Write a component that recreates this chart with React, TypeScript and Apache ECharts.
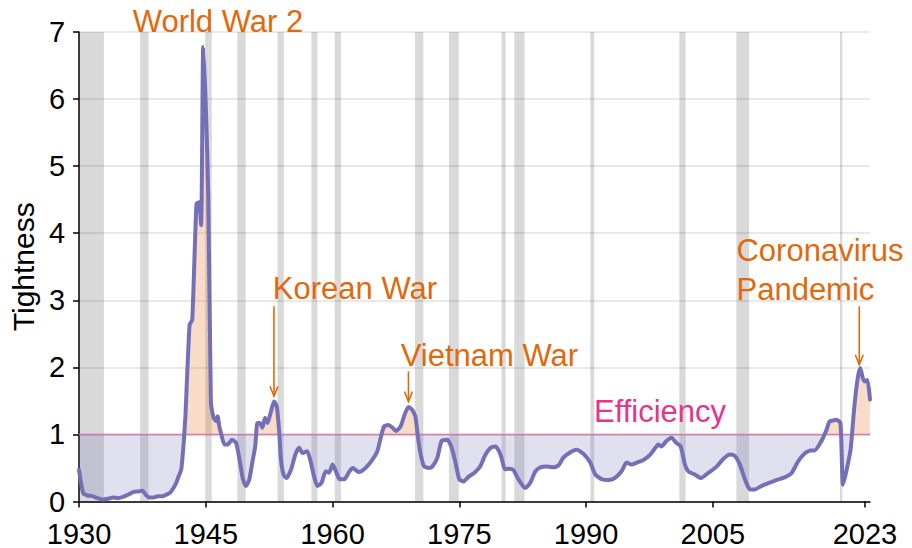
import React, { useEffect, useRef } from "react";
import * as echarts from "echarts";

// ---- data ----
const years: number[] = [
  1930.0, 1930.5, 1931.0, 1931.6, 1932.2, 1932.8, 1933.4, 1934.0, 1934.6, 1935.2,
  1935.8, 1936.4, 1937.0, 1937.5, 1937.9, 1938.3, 1938.8, 1939.3, 1939.9, 1940.5,
  1940.9, 1941.4, 1941.8, 1942.1, 1942.4, 1942.6, 1942.8, 1943.0, 1943.1, 1943.4,
  1943.9, 1944.2, 1944.45, 1944.7, 1945.0, 1945.3, 1945.6, 1945.9, 1946.2, 1946.4,
  1946.6, 1946.8, 1947.2, 1947.6, 1948.1, 1948.6, 1949.05, 1949.4, 1949.75, 1950.15,
  1950.5, 1950.85, 1951.1, 1951.4, 1951.7, 1952.0, 1952.3, 1952.6, 1953.1, 1953.4,
  1953.7, 1953.9, 1954.2, 1954.55, 1955.1, 1955.6, 1956.05, 1956.45, 1957.0, 1957.4,
  1957.8, 1958.2, 1958.7, 1959.2, 1959.6, 1960.0, 1960.4, 1960.85, 1961.4, 1962.0,
  1962.4, 1963.1, 1963.9, 1964.7, 1965.3, 1965.7, 1966.1, 1966.6, 1967.1, 1967.5,
  1968.05, 1968.6, 1969.0, 1969.4, 1969.8, 1970.1, 1970.4, 1970.8, 1971.4, 1971.8,
  1972.4, 1972.9, 1973.6, 1974.1, 1974.55, 1975.0, 1975.5, 1976.1, 1976.8, 1977.5,
  1978.1, 1978.7, 1979.3, 1979.7, 1980.0, 1980.4, 1980.9, 1981.4, 1982.0, 1982.8,
  1983.4, 1984.0, 1984.6, 1985.4, 1986.2, 1986.75, 1987.3, 1988.1, 1988.9, 1989.7,
  1990.5, 1991.1, 1991.9, 1992.65, 1993.4, 1994.2, 1994.8, 1995.4, 1996.0, 1996.8,
  1997.6, 1998.2, 1998.55, 1998.9, 1999.5, 2000.1, 2000.7, 2001.2, 2001.7, 2002.1,
  2002.9, 2003.6, 2004.5, 2005.45, 2006.2, 2007.0, 2007.6, 2008.2, 2008.8, 2009.4,
  2009.95, 2010.75, 2011.5, 2012.5, 2013.5, 2014.3, 2015.1, 2015.9, 2016.6, 2017.05,
  2017.85, 2018.4, 2018.8, 2019.3, 2019.6, 2020.1, 2020.4, 2020.8, 2021.3, 2021.75,
  2022.15, 2022.45, 2022.75, 2023.0, 2023.3, 2023.6,
];
const tightness: number[] = [
  0.47, 0.12, 0.09, 0.08, 0.05, 0.03, 0.04, 0.06, 0.05, 0.07,
  0.10, 0.14, 0.15, 0.16, 0.10, 0.06, 0.06, 0.08, 0.08, 0.11,
  0.15, 0.25, 0.38, 0.48, 0.90, 1.30, 1.90, 2.45, 2.64, 2.71,
  4.44, 4.46, 4.12, 6.78, 5.90, 4.54, 1.50, 1.26, 1.20, 1.27,
  1.12, 1.02, 0.85, 0.85, 0.92, 0.87, 0.58, 0.33, 0.23, 0.33,
  0.58, 0.82, 1.17, 1.17, 1.10, 1.25, 1.17, 1.29, 1.49, 1.42,
  1.02, 0.62, 0.40, 0.35, 0.48, 0.70, 0.80, 0.72, 0.75, 0.60,
  0.38, 0.23, 0.28, 0.45, 0.43, 0.55, 0.45, 0.33, 0.33, 0.45,
  0.50, 0.44, 0.50, 0.62, 0.75, 0.95, 1.12, 1.14, 1.10, 1.05,
  1.12, 1.32, 1.41, 1.37, 1.27, 0.97, 0.72, 0.53, 0.50, 0.52,
  0.65, 0.90, 0.92, 0.80, 0.58, 0.33, 0.30, 0.37, 0.43, 0.53,
  0.70, 0.80, 0.82, 0.75, 0.65, 0.48, 0.49, 0.47, 0.33, 0.20,
  0.28, 0.45, 0.51, 0.52, 0.51, 0.54, 0.65, 0.73, 0.77, 0.71,
  0.58, 0.40, 0.33, 0.32, 0.35, 0.45, 0.58, 0.55, 0.58, 0.62,
  0.70, 0.80, 0.85, 0.82, 0.90, 0.95, 0.87, 0.82, 0.55, 0.45,
  0.40, 0.35, 0.43, 0.52, 0.63, 0.70, 0.68, 0.55, 0.33, 0.18,
  0.18, 0.23, 0.27, 0.32, 0.36, 0.42, 0.60, 0.72, 0.76, 0.76,
  0.90, 1.05, 1.19, 1.21, 1.22, 1.17, 0.25, 0.45, 0.77, 1.42,
  1.84, 1.99, 1.84, 1.79, 1.81, 1.52,
];
const recessionStarts: number[] = [
  1930.0, 1937.23, 1944.93, 1948.74, 1953.49, 1957.5, 1960.26, 1969.76, 1973.77,
  1980.0, 1981.51, 1990.5, 2001.04, 2007.79, 2020.05,
];
const recessionEnds: number[] = [
  1932.95, 1938.22, 1945.71, 1949.72, 1954.24, 1958.2, 1961.0, 1970.75, 1974.94,
  1980.48, 1982.72, 1990.97, 2001.78, 2009.29, 2020.32,
];
const xTickYears: number[] = [1930, 1945, 1960, 1975, 1990, 2005, 2023];
const xMin = 1930;
const xMax = 2023.6;
const yMin = 0;
const yMax = 7;
const efficiencyLevel = 1;

// annotation labels (anchor in data units)
const noteTexts: string[] = ["World War 2", "Korean War", "Vietnam War", "Coronavirus", "Pandemic"];
const noteX: number[] = [1946.44, 1962.65, 1978.56, 2007.8, 2007.8];
const noteY: number[] = [7.16, 3.17, 2.17, 3.74, 3.16];
const noteAlign: string[] = ["center", "center", "center", "left", "left"];
// arrows: x, from y, to y
const arrowX: number[] = [1953.07, 1968.98, 2022.33];
const arrowFrom: number[] = [2.91, 1.94, 2.91];
const arrowTo: number[] = [1.57, 1.49, 2.04];
const efficiencyLabel = "Efficiency";
const efficiencyLabelX = 1998.75;
const efficiencyLabelY = 1.34;

const FONT = "'Liberation Sans', Arial, Helvetica, sans-serif";
const ORANGE = "#e2680c";
const PINK_TEXT = "#e6338c";
const PINK_LINE = "#e27ab2";
const PURPLE = "#7470b8";

export default function App() {
  const ref = useRef<HTMLDivElement>(null);

  useEffect(() => {
    if (!ref.current) return;
    const chart = echarts.init(ref.current, null, { renderer: "svg" });
    const lineData = years.map((y, i) => [y, tightness[i]]);

    const option: any = {
      animation: false,
      backgroundColor: "#ffffff",
      textStyle: { fontFamily: FONT },
      grid: { left: 76, right: 42, top: 32, bottom: 46, containLabel: false },
      xAxis: {
        type: "value",
        min: xMin,
        max: xMax,
        axisLine: { show: true, onZero: false, lineStyle: { color: "#000", width: 1.5 } },
        axisTick: {
          show: true,
          customValues: xTickYears,
          length: 6,
          lineStyle: { color: "#000", width: 1.5 },
        },
        axisLabel: {
          customValues: xTickYears,
          color: "#000",
          fontSize: 29,
          lineHeight: 22,
          fontFamily: FONT,
          margin: 21,
          formatter: (v: number) => String(Math.round(v)),
        },
        splitLine: { show: false },
      },
      yAxis: {
        type: "value",
        min: yMin,
        max: yMax,
        interval: 1,
        name: "Tightness",
        nameLocation: "middle",
        nameGap: 40,
        nameTextStyle: { color: "#000", fontSize: 30, fontFamily: FONT },
        axisLine: { show: true, lineStyle: { color: "#000", width: 1.5 } },
        axisTick: { show: true, length: 6, lineStyle: { color: "#000", width: 1.5 } },
        axisLabel: { color: "#000", fontSize: 29, lineHeight: 22, fontFamily: FONT, margin: 14 },
        splitLine: { show: true, lineStyle: { color: "#e2e2e2", width: 1.5 } },
      },
      visualMap: {
        show: false,
        type: "piecewise",
        seriesIndex: 1,
        dimension: 1,
        pieces: [
          { gte: yMin - 1, lt: efficiencyLevel, color: "rgba(117,113,183,0.22)" },
          { gte: efficiencyLevel, lte: yMax + 1, color: "rgba(230,130,60,0.28)" },
        ],
      },
      series: [
        {
          name: "efficiency",
          type: "line",
          z: 1,
          silent: true,
          showSymbol: false,
          data: [
            [xMin, efficiencyLevel],
            [xMax, efficiencyLevel],
          ],
          lineStyle: { color: PINK_LINE, width: 1.6 },
          markArea: {
            silent: true,
            itemStyle: { color: "rgba(0,0,0,0.15)" },
            data: recessionStarts.map((s, i) => [
              { xAxis: s, yAxis: yMin },
              { xAxis: recessionEnds[i], yAxis: yMax },
            ]),
          },
        },
        {
          name: "fill",
          type: "line",
          z: 2,
          silent: true,
          showSymbol: false,
          smooth: 0.2,
          data: lineData,
          lineStyle: { width: 0, opacity: 0 },
          areaStyle: { origin: efficiencyLevel, opacity: 1 },
        },
        {
          name: "Tightness",
          type: "line",
          z: 3,
          silent: true,
          showSymbol: false,
          smooth: 0.2,
          data: lineData,
          lineStyle: { color: PURPLE, width: 4, cap: "round", join: "round" },
          itemStyle: { color: PURPLE },
        },
      ],
    };
    chart.setOption(option);

    const px = (x: number, y: number) =>
      chart.convertToPixel({ gridIndex: 0 }, [x, y]) as number[];

    const graphics: any[] = [];
    noteTexts.forEach((t, i) => {
      const p = px(noteX[i], noteY[i]);
      graphics.push({
        type: "text",
        x: p[0],
        y: p[1],
        z: 10,
        style: {
          text: t,
          fill: ORANGE,
          fontSize: 31,
          fontFamily: FONT,
          align: noteAlign[i],
          verticalAlign: "middle",
        },
      });
    });
    const ep = px(efficiencyLabelX, efficiencyLabelY);
    graphics.push({
      type: "text",
      x: ep[0],
      y: ep[1],
      z: 10,
      style: {
        text: efficiencyLabel,
        fill: PINK_TEXT,
        fontSize: 31,
        fontFamily: FONT,
        align: "center",
        verticalAlign: "middle",
      },
    });
    arrowX.forEach((ax, i) => {
      const a = px(ax, arrowFrom[i]);
      const b = px(ax, arrowTo[i]);
      graphics.push({
        type: "line",
        z: 10,
        shape: { x1: a[0], y1: a[1], x2: b[0], y2: b[1] },
        style: { stroke: ORANGE, lineWidth: 1.6 },
      });
      graphics.push({
        type: "polyline",
        z: 10,
        shape: {
          points: [
            [b[0] - 4, b[1] - 10],
            [b[0], b[1]],
            [b[0] + 4, b[1] - 10],
          ],
        },
        style: { stroke: ORANGE, lineWidth: 1.6, fill: "none" },
      });
    });
    chart.setOption({ graphic: graphics });

    return () => chart.dispose();
  }, []);

  return (
    <div
      ref={ref}
      style={{ position: "fixed", left: 0, top: 0, width: 912, height: 548 }}
    />
  );
}
